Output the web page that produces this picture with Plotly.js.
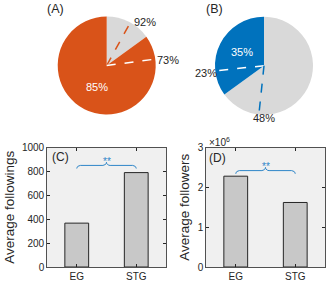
<!DOCTYPE html>
<html>
<head>
<meta charset="utf-8">
<script src="https://cdn.plot.ly/plotly-3.0.1.min.js"></script>
<style>html,body{margin:0;padding:0;background:#fff;}#chart{width:328px;height:285px;}</style>
</head>
<body>
<div id="chart"></div>
<script>
// ---- data ----
const pieALabels = ['other', 'main'];
const pieAValues = [15, 85];
const pieBLabels = ['other', 'main'];
const pieBValues = [65, 35];
const pieAInner = ['85%'];
const pieAOuter = ['92%', '73%'];
const pieBInner = ['35%'];
const pieBOuter = ['23%', '48%'];
const groups = ['EG', 'STG'];
const followings = [367, 790];
const followers = [2.28e6, 1.62e6];
const sigLabel = '**';
const bracketC = {level: 850, h: 26};
const bracketD = {level: 2.42e6, h: 0.08e6};

// ---- layout helpers ----
const W = 328, H = 285;
const px = x => x / W, py = y => 1 - y / H;
const font = 'Liberation Sans, Arial, sans-serif';
const ink = '#262626';
const gray = '#d9d9d9', orange = '#d95319', blue = '#0072bd', braceBlue = '#2f86c8';

const pieA = {cx: 106.7, cy: 65.5, r: 49};
const pieB = {cx: 264, cy: 65.7, r: 49};
function pieDomain(p) {
  return {x: [px(p.cx - p.r), px(p.cx + p.r)], y: [py(p.cy + p.r), py(p.cy - p.r)]};
}
function ray(p, deg, frac, color) {
  const t = deg * Math.PI / 180;
  return {type: 'line', xref: 'paper', yref: 'paper',
    x0: px(p.cx), y0: py(p.cy),
    x1: px(p.cx + p.r * frac * Math.sin(t)), y1: py(p.cy - p.r * frac * Math.cos(t)),
    line: {color: color, width: 1.5, dash: 'dash'}};
}
function brace(x1, x2, y0, h, a) {
  const xs = [], ys = [], n = 8, xm = (x1 + x2) / 2;
  for (let i = 0; i <= n; i++) { const t = i / n * Math.PI / 2; xs.push(x1 + a * (1 - Math.cos(t))); ys.push(y0 - h + h * Math.sin(t)); }
  for (let i = 0; i <= n; i++) { const t = i / n * Math.PI / 2; xs.push(xm - a + a * Math.sin(t)); ys.push(y0 + h * (1 - Math.cos(t))); }
  for (let i = 0; i <= n; i++) { const t = i / n * Math.PI / 2; xs.push(xm + a - a * Math.cos(t)); ys.push(y0 + h - h * Math.sin(t)); }
  for (let i = 0; i <= n; i++) { const t = i / n * Math.PI / 2; xs.push(x2 - a + a * Math.sin(t)); ys.push(y0 - h + h * Math.cos(t)); }
  return {xs, ys};
}

const xPos = groups.map((g, i) => i);
const bC = brace(xPos[0], xPos[1], bracketC.level, bracketC.h, 0.06);
const bD = brace(xPos[0], xPos[1], bracketD.level, bracketD.h, 0.06);

const traces = [
  {type: 'pie', labels: pieALabels, values: pieAValues, sort: false, direction: 'clockwise', rotation: 0,
   marker: {colors: [gray, orange], line: {width: 0}}, textinfo: 'none', hoverinfo: 'none',
   domain: pieDomain(pieA), showlegend: false},
  {type: 'pie', labels: pieBLabels, values: pieBValues, sort: false, direction: 'clockwise', rotation: 0,
   marker: {colors: [gray, blue], line: {width: 0}}, textinfo: 'none', hoverinfo: 'none',
   domain: pieDomain(pieB), showlegend: false},
  {type: 'bar', x: xPos, y: followings, width: 0.4, xaxis: 'x', yaxis: 'y',
   marker: {color: '#c8c8c8', line: {color: ink, width: 1}}, showlegend: false, hoverinfo: 'none'},
  {type: 'bar', x: xPos, y: followers, width: 0.4, xaxis: 'x2', yaxis: 'y2',
   marker: {color: '#c8c8c8', line: {color: ink, width: 1}}, showlegend: false, hoverinfo: 'none'},
  {type: 'scatter', mode: 'lines', x: bC.xs, y: bC.ys, xaxis: 'x', yaxis: 'y',
   line: {color: braceBlue, width: 1}, showlegend: false, hoverinfo: 'none'},
  {type: 'scatter', mode: 'lines', x: bD.xs, y: bD.ys, xaxis: 'x2', yaxis: 'y2',
   line: {color: braceBlue, width: 1}, showlegend: false, hoverinfo: 'none'}
];

function xax(domain, anchor) {
  return {domain: domain, anchor: anchor, range: [-0.5, 1.5], tickvals: xPos, ticktext: groups,
    ticks: 'inside', ticklen: 3, tickcolor: ink, showline: true, linecolor: ink, linewidth: 0.8, mirror: 'ticks',
    showgrid: false, zeroline: false, fixedrange: true, tickfont: {family: font, size: 10, color: ink}};
}
function yax(domain, anchor, range, tickvals, ticktext, title) {
  return {domain: domain, anchor: anchor, range: range, tickvals: tickvals, ticktext: ticktext,
    ticks: 'inside', ticklen: 3, tickcolor: ink, showline: true, linecolor: ink, linewidth: 0.8, mirror: 'ticks',
    showgrid: false, zeroline: false, fixedrange: true, tickfont: {family: font, size: 10, color: ink},
    title: {text: title, font: {family: font, size: 13.5, color: ink}, standoff: 4}};
}
const yDom = [py(267), py(147.5)];

const annText = (x, y, text, color, size, xanchor) => ({xref: 'paper', yref: 'paper', x: px(x), y: py(y),
  text: text, showarrow: false, xanchor: xanchor || 'center', yanchor: 'middle',
  font: {family: font, size: size, color: color}});

const layout = {
  width: W, height: H, margin: {l: 0, r: 0, t: 0, b: 0}, paper_bgcolor: '#ffffff', plot_bgcolor: '#f0f0f0',
  showlegend: false, bargap: 0,
  xaxis: xax([px(47), px(166)], 'y'),
  yaxis: yax(yDom, 'x', [0, 1000], [0, 200, 400, 600, 800, 1000], ['0', '200', '400', '600', '800', '1000'], 'Average followings'),
  xaxis2: xax([px(206), px(325)], 'y2'),
  yaxis2: yax(yDom, 'x2', [0, 3e6], [0, 1e6, 2e6, 3e6], ['0', '1', '2', '3'], 'Average followers'),
  shapes: [
    ray(pieA, 28.8, 0.92, orange),
    ray(pieA, 82.5, 1.0, '#ffffff'),
    ray(pieB, 264, 0.97, '#ffffff'),
    ray(pieB, 186, 0.95, blue)
  ],
  annotations: [
    annText(55, 9, '(A)', ink, 12.5),
    annText(214, 9, '(B)', ink, 12.5),
    annText(97, 87, pieAInner[0], '#ffffff', 11),
    annText(145, 22, pieAOuter[0], ink, 11),
    annText(168, 60, pieAOuter[1], ink, 11),
    annText(242, 52, pieBInner[0], '#ffffff', 11),
    annText(206, 73, pieBOuter[0], ink, 11),
    annText(264, 118, pieBOuter[1], ink, 11),
    annText(50, 157, '(C)', ink, 12, 'left'),
    annText(207, 158, '(D)', ink, 12, 'left'),
    annText(207, 142, '×10<sup>6</sup>', ink, 10, 'left'),
    {xref: 'x', yref: 'y', x: 0.5, y: bracketC.level + bracketC.h, text: sigLabel, showarrow: false,
     yanchor: 'bottom', yshift: -7, font: {family: font, size: 10, color: braceBlue}},
    {xref: 'x2', yref: 'y2', x: 0.5, y: bracketD.level + bracketD.h, text: sigLabel, showarrow: false,
     yanchor: 'bottom', yshift: -7, font: {family: font, size: 10, color: braceBlue}}
  ]
};

Plotly.newPlot('chart', traces, layout, {staticPlot: true, displayModeBar: false});
</script>
</body>
</html>
